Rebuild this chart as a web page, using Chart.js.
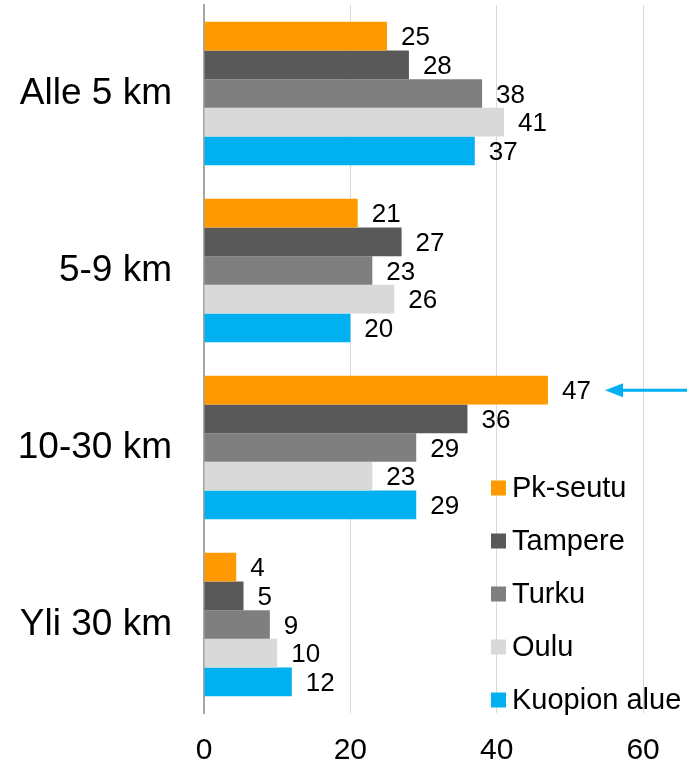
<!DOCTYPE html>
<html>
<head>
<meta charset="utf-8">
<script src="https://cdn.jsdelivr.net/npm/chart.js@4"></script>
<style>
  html, body { margin:0; padding:0; background:#fff; }
  #wrap { width:687px; height:767px; position:relative; }
</style>
</head>
<body>
<div id="wrap"><canvas id="chart" width="687" height="767"></canvas></div>
<script>
// Etäisyysluokat ja sarjat
const categories = ['Alle 5 km', '5-9 km', '10-30 km', 'Yli 30 km'];
const seriesNames = ['Pk-seutu', 'Tampere', 'Turku', 'Oulu', 'Kuopion alue'];
const pkSeutu = [25, 21, 47, 4.4];
const tampere = [28, 27, 36, 5.4];
const turku = [38, 23, 29, 9];
const oulu = [41, 26, 23, 10];
const kuopio = [37, 20, 29, 12];
const xTicks = [0, 20, 40, 60];

const COLORS = ['#FF9900', '#595959', '#7F7F7F', '#D9D9D9', '#00B0F0'];
const FONT = '"Liberation Sans", Arial, sans-serif';

const seriesValues = [pkSeutu, tampere, turku, oulu, kuopio];

// Arvot palkkien perään
const valueLabels = {
  id: 'valueLabels',
  afterDatasetsDraw(chart){
    const ctx = chart.ctx;
    ctx.save();
    ctx.font = '26px ' + FONT;
    ctx.fillStyle = '#000';
    ctx.textBaseline = 'middle';
    ctx.textAlign = 'left';
    chart.data.datasets.forEach((ds, i) => {
      chart.getDatasetMeta(i).data.forEach((bar, j) => {
        ctx.fillText(String(Math.round(ds.data[j])), bar.x + 14, bar.y + 2);
      });
    });
    ctx.restore();
  }
};

// Selite kuvan sisällä oikealla
const insideLegend = {
  id: 'insideLegend',
  afterDraw(chart){
    const ctx = chart.ctx;
    ctx.save();
    ctx.font = '29px ' + FONT;
    ctx.textBaseline = 'middle';
    ctx.textAlign = 'left';
    chart.data.datasets.forEach((ds, i) => {
      const y = 488 + i * 53;
      ctx.fillStyle = ds.backgroundColor;
      ctx.fillRect(491, y - 7.5, 15, 15);
      ctx.fillStyle = '#000';
      ctx.fillText(ds.label, 512, y + 1);
    });
    ctx.restore();
  }
};

// Nuoli 47-arvon kohdalle
const arrow = {
  id: 'arrow',
  afterDraw(chart){
    const meta = chart.getDatasetMeta(0);
    const bar = meta.data[2];
    const y = bar.y;
    const tip = 605;
    const ctx = chart.ctx;
    ctx.save();
    ctx.strokeStyle = '#00B0F0';
    ctx.fillStyle = '#00B0F0';
    ctx.lineWidth = 3;
    ctx.beginPath();
    ctx.moveTo(687, y);
    ctx.lineTo(tip + 14, y);
    ctx.stroke();
    ctx.beginPath();
    ctx.moveTo(tip, y);
    ctx.lineTo(tip + 18, y - 7);
    ctx.lineTo(tip + 18, y + 7);
    ctx.closePath();
    ctx.fill();
    ctx.restore();
  }
};

new Chart(document.getElementById('chart'), {
  type: 'bar',
  data: {
    labels: categories,
    datasets: seriesNames.map((name, i) => ({
      label: name,
      data: seriesValues[i],
      backgroundColor: COLORS[i],
      borderWidth: 0,
      barPercentage: 1,
      categoryPercentage: 0.81
    }))
  },
  options: {
    indexAxis: 'y',
    responsive: false,
    animation: false,
    layout: { padding: { top: 5, right: 0, left: 0, bottom: 0 } },
    plugins: {
      legend: { display: false },
      tooltip: { enabled: false }
    },
    scales: {
      x: {
        min: 0,
        max: 66,
        afterBuildTicks: axis => { axis.ticks = xTicks.map(v => ({ value: v })); },
        afterFit: axis => { axis.height = 54; axis.paddingLeft = 0; axis.paddingRight = 0; },
        grid: {
          color: c => c.tick && c.tick.value === 0 ? 'rgba(0,0,0,0)' : '#D9D9D9',
          lineWidth: 1,
          drawTicks: false
        },
        border: { display: false },
        ticks: { color: '#000', font: { family: FONT, size: 30 }, padding: 20 }
      },
      y: {
        afterFit: axis => { axis.width = 204; axis.paddingTop = 0; axis.paddingBottom = 0; },
        grid: { display: false, drawTicks: false },
        border: { display: true, color: '#A6A6A6', width: 2 },
        ticks: { color: '#000', font: { family: FONT, size: 37 }, padding: 32 }
      }
    }
  },
  plugins: [valueLabels, insideLegend, arrow]
});
</script>
</body>
</html>
